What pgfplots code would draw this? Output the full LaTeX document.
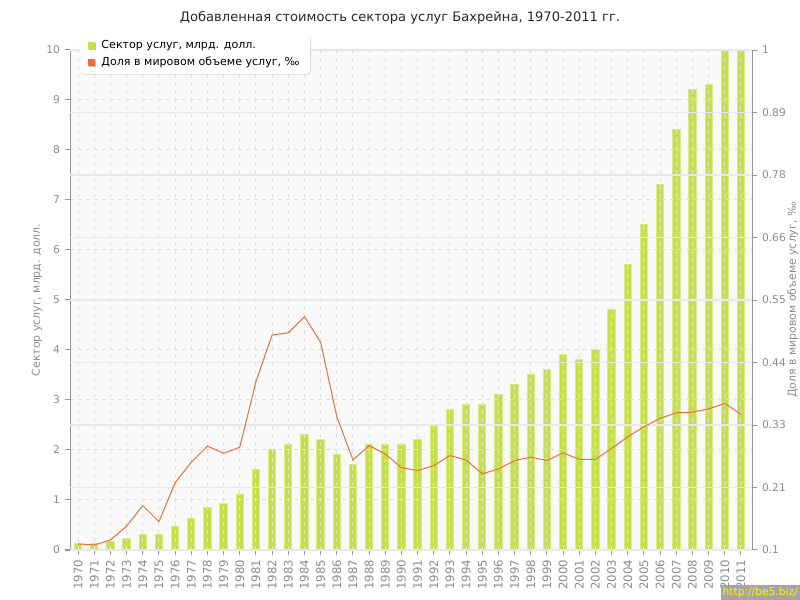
\documentclass[border=0pt]{standalone}
\usepackage{pgfplots}
\pgfplotsset{compat=1.18}
\usepackage{pgfplotstable}
\usepackage{fontspec}
\setmainfont{DejaVu Sans}
\usetikzlibrary{shadows}
\definecolor{barg}{RGB}{198,224,74}
\definecolor{baredge}{RGB}{216,235,135}
\definecolor{lineo}{RGB}{232,112,58}
\definecolor{txtgray}{RGB}{140,140,140}
\definecolor{axgray}{RGB}{150,150,150}
\definecolor{gridg}{RGB}{224,224,224}
\definecolor{gridr}{RGB}{232,232,232}
\definecolor{bgg}{RGB}{249,249,249}
\definecolor{titc}{RGB}{40,40,40}

\pgfplotstableread{
year val share
1970 0.13 0.111
1971 0.12 0.109
1972 0.17 0.118
1973 0.22 0.143
1974 0.31 0.180
1975 0.30 0.151
1976 0.47 0.221
1977 0.63 0.258
1978 0.84 0.287
1979 0.92 0.274
1980 1.10 0.285
1981 1.60 0.403
1982 2.00 0.487
1983 2.10 0.491
1984 2.30 0.520
1985 2.20 0.474
1986 1.90 0.340
1987 1.70 0.262
1988 2.10 0.288
1989 2.10 0.273
1990 2.10 0.248
1991 2.20 0.243
1992 2.50 0.252
1993 2.80 0.270
1994 2.90 0.262
1995 2.90 0.237
1996 3.10 0.246
1997 3.30 0.261
1998 3.50 0.267
1999 3.60 0.261
2000 3.90 0.275
2001 3.80 0.263
2002 4.00 0.263
2003 4.80 0.283
2004 5.70 0.304
2005 6.50 0.322
2006 7.30 0.337
2007 8.40 0.347
2008 9.20 0.348
2009 9.30 0.354
2010 10.6 0.364
2011 11.2 0.344
}\data

\begin{document}
\begin{tikzpicture}
\path[use as bounding box] (0,0) rectangle (600pt,450pt);
\begin{axis}[
  at={(52.5pt,37.5pt)}, anchor=south west,
  scale only axis, width=511.5pt, height=375pt,
  xmin=1969.5, xmax=2011.68, ymin=0, ymax=10,
  axis background/.style={fill=bgg},
  axis y line*=left, axis x line*=bottom,
  axis line style={axgray, line width=0.75pt},
  xtick={1970,...,2011}, ytick={0,...,10},
  /pgf/number format/assume math mode=true,
  /pgf/number format/1000 sep={},
  xticklabel style={rotate=90, anchor=east, font=\fontsize{8.8}{9}\selectfont, text=txtgray},
  yticklabel style={font=\fontsize{8}{9}\selectfont, text=txtgray},
  tick style={axgray, line width=0.75pt}, tick align=outside, major tick length=4pt,
  xmajorgrids, ymajorgrids,
  grid style={gridg, dash pattern=on 3pt off 3pt, line width=0.75pt},
  axis on top,
]
\addplot[ybar, bar width=5.5pt, fill=barg, draw=baredge, line width=0.75pt] table[x=year,y=val]{\data};
\end{axis}
\begin{axis}[
  at={(52.5pt,37.5pt)}, anchor=south west,
  scale only axis, width=511.5pt, height=375pt,
  xmin=1969.5, xmax=2011.68, ymin=0.1, ymax=1,
  axis y line*=right, axis x line=none,
  axis line style={axgray, line width=0.75pt},
  ytick={0.1,0.2125,0.325,0.4375,0.55,0.6625,0.775,0.8875,1},
  yticklabels={0.1,0.21,0.33,0.44,0.55,0.66,0.78,0.89,1},
  yticklabel style={font=\fontsize{8}{9}\selectfont, text=txtgray},
  tick style={axgray, line width=0.75pt}, tick align=outside, major tick length=4pt,
  ymajorgrids, grid style={gridr, line width=1.2pt},
  legend style={at={(0.0147,1.034)}, anchor=north west, draw=none, fill=white,
    rounded corners=3pt, drop shadow={shadow xshift=0.6pt, shadow yshift=-0.6pt, opacity=0.25},
    font=\fontsize{8.3}{10}\selectfont, text=black, cells={anchor=west},
    inner xsep=6pt, inner ysep=3pt, row sep=1pt},
]
\addlegendimage{legend image code/.code={\fill[barg, sharp corners] (3pt,-2.2pt) rectangle (7.5pt,2.3pt);}}
\addlegendentry{\hspace*{3pt}Сектор услуг, млрд. долл.}
\addplot[lineo, line width=0.75pt, mark=none, forget plot] table[x=year,y=share]{\data};
\addlegendimage{legend image code/.code={\fill[lineo, sharp corners] (3pt,-2.2pt) rectangle (7.5pt,2.3pt);}}
\addlegendentry{\hspace*{3pt}Доля в мировом объеме услуг, ‰}
\end{axis}
\node[text=titc, font=\fontsize{9.8}{11}\selectfont] at (300pt,436.5pt) {Добавленная стоимость сектора услуг Бахрейна, 1970-2011 гг.};
\node[rotate=90, text=txtgray, font=\fontsize{8.2}{9}\selectfont] at (27.75pt,225pt) {Сектор услуг, млрд. долл.};
\node[rotate=90, text=txtgray, font=\fontsize{8.2}{9}\selectfont] at (594.5pt,225pt) {Доля в мировом объеме услуг, ‰};
\node[fill={rgb,255:red,165;green,165;blue,165}, text=yellow, anchor=south east, inner sep=1.5pt, font=\fontsize{8}{9}\selectfont] at (600pt,0pt) {http://be5.biz/};
\end{tikzpicture}
\end{document}
